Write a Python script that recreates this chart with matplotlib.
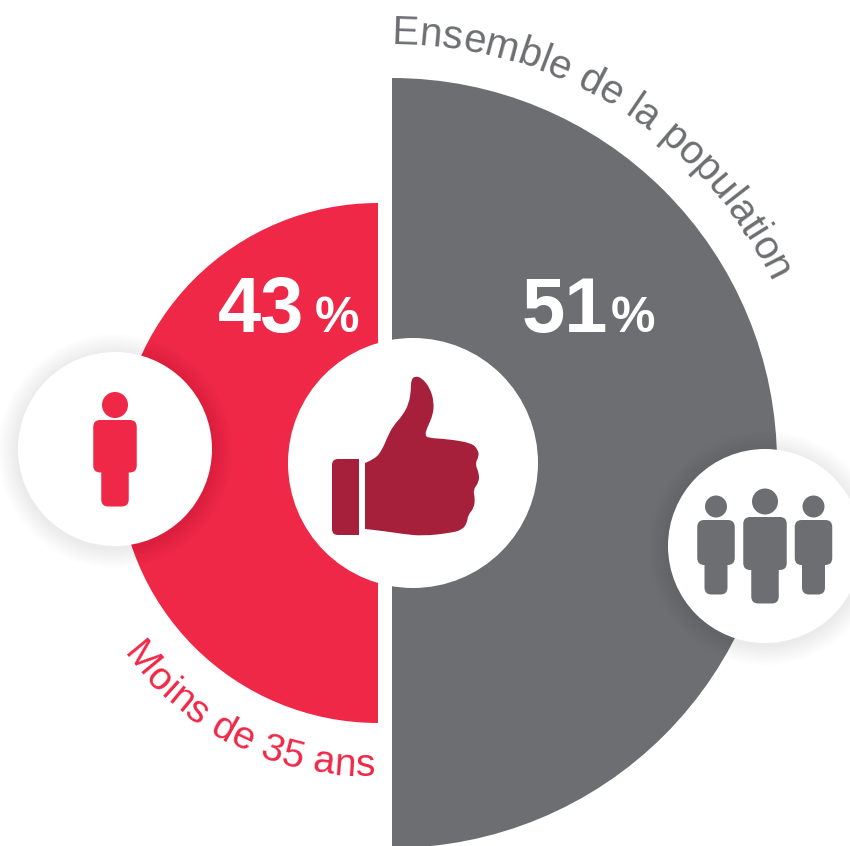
import numpy as np
import matplotlib
matplotlib.use('Agg')
import matplotlib.pyplot as plt
from matplotlib.patches import Wedge, Circle, FancyBboxPatch, Rectangle, PathPatch
from matplotlib.path import Path
from matplotlib.textpath import text_to_path
from matplotlib.font_manager import FontProperties

labels = ['Moins de 35 ans', 'Ensemble de la population']
values = [43, 51]

red = '#EF2847'
gray = '#6D6E71'
dark_red = '#A6203C'
font = 'Liberation Sans'

# contour du pouce, coordonnees pixels
thumb = [(365,463),(375,459),(382,450),(387,438),(393,426),(403,415),(409,403),(411,390),(411,380),
         (415,376),(422,378),(430,388),(434,402),(433,415),(427,428),(425,435),(428,438),(447,439),
         (472,443),(478,450),(479,456),(475,464),(479,473),(479,482),(473,490),(475,498),(474,508),
         (468,515),(467,523),(462,530),(450,533),(423,536),(403,534),(383,531),(365,529)]


def person(ax, cx, head_y, head_r, body_w, body_top, body_bot, leg_w, leg_bot, color):
    ax.add_patch(Circle((cx, head_y), head_r, fc=color, ec='none', zorder=6))
    r = 7
    ax.add_patch(FancyBboxPatch((cx-body_w/2+r, body_top+r), body_w-2*r, body_bot-body_top-2*r,
                                boxstyle='round,pad=%d,rounding_size=%d' % (r, r), fc=color, ec='none', zorder=6))
    ax.add_patch(FancyBboxPatch((cx-leg_w/2+r, body_bot-10), leg_w-2*r, leg_bot-body_bot+10-r,
                                boxstyle='round,pad=%d,rounding_size=%d' % (r, r), fc=color, ec='none', zorder=6))


def shadow(ax, cx, cy, r):
    # ombre douce autour des petits cercles
    for d in np.arange(20, 0, -2):
        ax.add_patch(Circle((cx, cy+2), r+d, fc='black', ec='none', alpha=0.007, zorder=3))


def arc_text(ax, s, cx, cy, r, start, size, color, top=True, track=0.0):
    prop = FontProperties(family=font, size=size)
    k = 100/72
    for i, ch in enumerate(s):
        w0 = text_to_path.get_text_width_height_descent(s[:i], prop, False)[0]*k if i else 0
        w1 = text_to_path.get_text_width_height_descent(s[:i+1], prop, False)[0]*k
        mid = (w0+w1)/2 + track*i
        if top:
            phi = start + np.degrees(mid/r)
            x = cx + r*np.sin(np.radians(phi))
            y = cy - r*np.cos(np.radians(phi))
        else:
            phi = start - np.degrees(mid/r)
            x = cx - r*np.sin(np.radians(phi))
            y = cy + r*np.cos(np.radians(phi))
        ax.text(x, y, ch, fontproperties=prop, color=color, rotation=-phi, rotation_mode='anchor',
                ha='center', va='baseline', zorder=7)


fig = plt.figure(figsize=(8.5, 8.46), dpi=100)
ax = fig.add_axes([0, 0, 1, 1])
ax.set_xlim(0, 850)
ax.set_ylim(846, 0)
ax.axis('off')

ax.add_patch(Wedge((378, 463), 260, 90, 270, fc=red, ec='none', zorder=1))
ax.add_patch(Wedge((392, 463), 385, -90, 90, fc=gray, ec='none', zorder=1))

shadow(ax, 115, 449, 97)
shadow(ax, 765, 546, 97)
ax.add_patch(Circle((115, 449), 97, fc='white', ec='none', zorder=4))
ax.add_patch(Circle((765, 546), 97, fc='white', ec='none', zorder=4))
ax.add_patch(Circle((413, 463), 125, fc='white', ec='none', zorder=4))

# pouce
verts = [thumb[0]]
codes = [Path.MOVETO]
for i in range(1, len(thumb)-1):
    a = np.array(thumb[i])
    b = np.array(thumb[i+1])
    verts += [tuple(a), tuple((a+b)/2)]
    codes += [Path.CURVE3, Path.CURVE3]
verts += [thumb[-1], thumb[0]]
codes += [Path.LINETO, Path.CLOSEPOLY]
ax.add_patch(PathPatch(Path(verts, codes), fc=dark_red, ec='none', zorder=6))
ax.add_patch(FancyBboxPatch((338, 465), 15, 64, boxstyle='round,pad=6,rounding_size=6',
                            fc=dark_red, ec='none', zorder=6))
ax.add_patch(Rectangle((345, 459), 14, 76, fc=dark_red, ec='none', zorder=6))

# personnages
person(ax, 115, 405, 13, 43.5, 420, 472.5, 27.5, 506.5, red)
person(ax, 765, 501.5, 13, 43.5, 517, 570, 27.5, 603.5, gray)
person(ax, 716, 506.5, 11, 37.5, 520, 565, 23, 594.5, gray)
person(ax, 813.5, 506.5, 11, 37.5, 520, 565, 23, 594.5, gray)

# valeurs
ax.text(218, 332, str(values[0]), fontfamily=font, fontweight='bold', fontsize=56, color='white', va='baseline', zorder=7)
ax.text(315, 332, '%', fontfamily=font, fontweight='bold', fontsize=36, color='white', va='baseline', zorder=7)
ax.text(522, 332, str(values[1]), fontfamily=font, fontweight='bold', fontsize=56, color='white', va='baseline', zorder=7)
ax.text(611, 332, '%', fontfamily=font, fontweight='bold', fontsize=36, color='white', va='baseline', zorder=7)

arc_text(ax, labels[1], 392, 463, 419, 0.0, 29, gray, top=True, track=-0.1)
arc_text(ax, labels[0], 365, 475, 301, 53.5, 28, red, top=False, track=0.4)

fig.savefig('out.png', dpi=100)
